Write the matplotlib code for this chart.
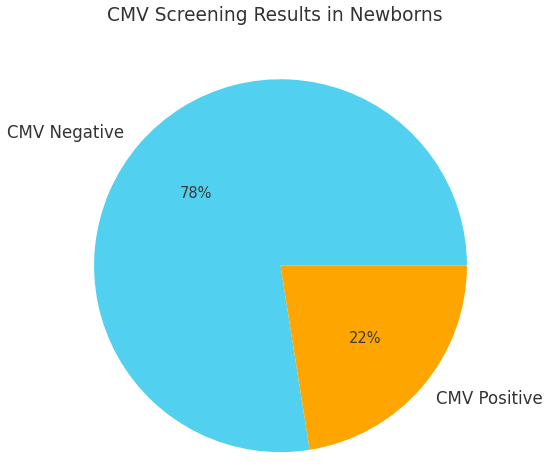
import matplotlib.pyplot as plt

labels = ["CMV Negative", "CMV Positive"]
sizes = [77.5, 22.5]
colors = ["#52d0f0", "#ffa500"]

fig = plt.figure(figsize=(5.5, 4.69), dpi=100)
ax = fig.add_axes([0.171, 0.036, 0.678, 0.795])

wedges, texts, autotexts = ax.pie(sizes, labels=labels, colors=colors,
                                  autopct="%1.0f%%", startangle=0,
                                  textprops={"fontsize": 12, "color": "#333333"})
for t in autotexts:
    t.set_fontsize(10.5)
    t.set_color("#3a3a3a")

ax.set_xlim(-1, 1)
ax.set_ylim(-1, 1)
ax.set_aspect("equal")

fig.text(0.5, 0.968, "CMV Screening Results in Newborns", ha="center", va="center",
         fontsize=13.4, color="#333333")

fig.savefig("out.png", dpi=100)
